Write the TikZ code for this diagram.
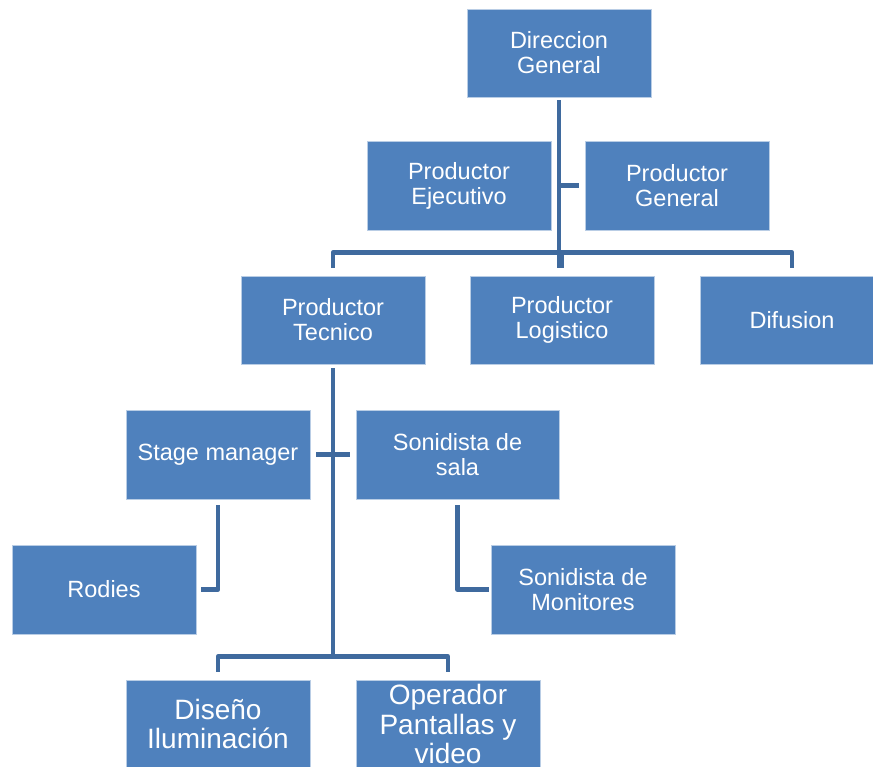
\documentclass[tikz,border=0pt]{standalone}
\usepackage{fontspec}
\setmainfont{Liberation Sans}
\usetikzlibrary{positioning}
\definecolor{boxblue}{HTML}{4F81BD}
\definecolor{lineblue}{HTML}{3F6A9E}
\tikzset{
	box/.style={fill=boxblue, draw=white!60!boxblue, line width=0.6pt, text=white, align=center,
		minimum width=184pt, minimum height=88pt, inner sep=2pt, font=\fontsize{23.5}{25}\selectfont},
	bigbox/.style={box, font=\fontsize{28}{29.5}\selectfont}
}

\begin{document}
\begin{tikzpicture}[x=1pt, y=-1pt, conn/.style={draw=lineblue, line width=4.5pt, line join=round}]
	\useasboundingbox (0,0) rectangle (873,766);
	% --- top ---
	\node[box] (dir)	at (559,53)		{Direccion\\General};
	\node[box, minimum height=89pt] (pejec)	at (459,185.5)	{Productor\\Ejecutivo};
	\node[box, minimum height=89pt] (pgen)	at (677,185.5)	{Productor\\General};

	\node[box] (ptec)	at (333,320)	{Productor\\Tecnico};
	\node[box] (plog)	at (562,320)	{Productor\\Logistico};
	\node[box] (dif)	at (792,320)	{Difusion};

	% --- tecnico ---
	\node[box, minimum height=89pt] (stage)	at (218,454.5)	{Stage manager};
	\node[box, minimum height=89pt, minimum width=203pt] (sala)	at (457.5,454.5)	{Sonidista de\\sala};
	\node[box, minimum height=89pt] (rodies)	at (104,589.5)	{Rodies};
	\node[box, minimum height=89pt] (monit)	at (583,589.5)	{Sonidista de\\Monitores};

	\node[bigbox] (dis)		at (218,724)	{Diseño\\Iluminación};
	\node[bigbox] (oper)	at (448,724)	{Operador\\Pantallas y\\video};

	% --- lines ---
	\draw[conn] ([yshift=-3pt]dir.south) -- ([yshift=8pt]plog.north -| dir.south);
	\draw[conn] ([xshift=-6pt]pgen.west) -- (pgen.west -| dir.south);
	\draw[conn] ([yshift=8pt]ptec.north) -- ++(0,-15) -| ([yshift=8pt]dif.north);
	\draw[conn] ([yshift=8pt]plog.north) -- ++(0,-15);

	\draw[conn] ([yshift=-4pt]ptec.south) -- ([yshift=23pt]dis.north -| ptec.south);
	\draw[conn] ([xshift=6pt]stage.east) -- ([xshift=-6pt]sala.west);
	\draw[conn] ([yshift=-6pt]stage.south) |- ([xshift=5pt]rodies.east);
	\draw[conn] ([yshift=-6pt]sala.south) |- ([xshift=-2pt]monit.west);
	\draw[conn] ([yshift=8pt]dis.north) -- ++(0,-15) -| ([yshift=8pt]oper.north);

\end{tikzpicture}
\end{document}
